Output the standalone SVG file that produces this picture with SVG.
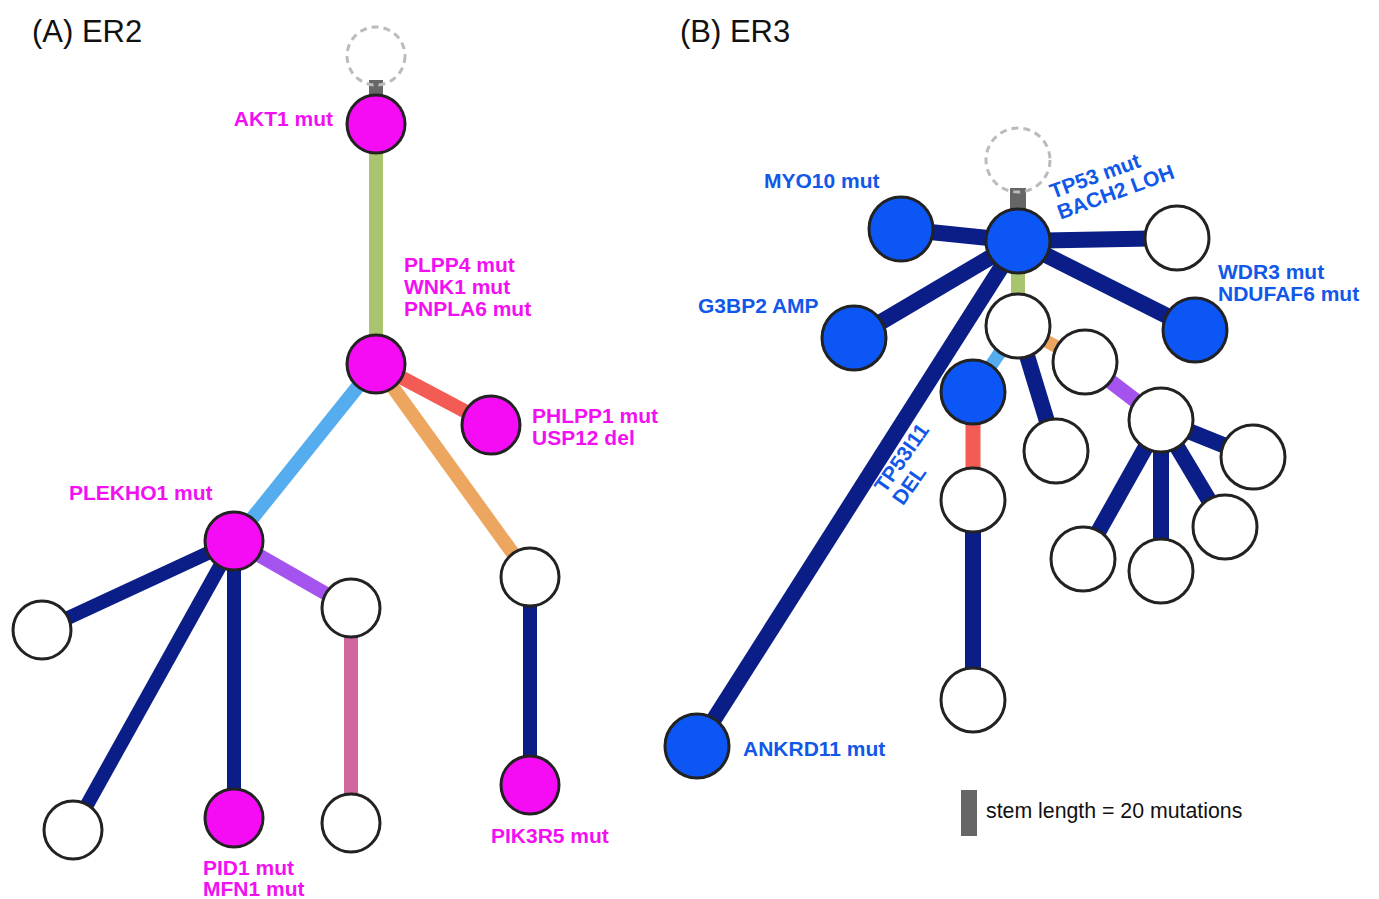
<svg xmlns="http://www.w3.org/2000/svg" width="1379" height="899" viewBox="0 0 1379 899">
<style>
.title{font-family:"Liberation Sans",Arial,sans-serif;font-size:31px;fill:#111}
.lm{font-family:"Liberation Sans",Arial,sans-serif;font-size:21px;font-weight:bold;fill:#f20ff2}
.lb{font-family:"Liberation Sans",Arial,sans-serif;font-size:21px;font-weight:bold;fill:#1158e8}
.leg{font-family:"Liberation Sans",Arial,sans-serif;font-size:21.3px;fill:#111}
.n{stroke:#222;stroke-width:3}
.w{fill:#fff}
.m{fill:#f50cf5}
.b{fill:#0b56f5}
.d{fill:none;stroke:#bbb;stroke-width:3;stroke-dasharray:7 5}
.ea line{stroke-width:14}
.eb line{stroke-width:16}
.navy{stroke:#0b1d87}
.green{stroke:#a9c46e}
.lblue{stroke:#55adf0}
.orange{stroke:#eda660}
.red{stroke:#f25c54}
.purple{stroke:#a553ee}
.pink{stroke:#d0679e}
.stem{stroke:#666}
</style>
<text class="title" x="32" y="42">(A) ER2</text>
<text class="title" x="680" y="42">(B) ER3</text>
<g id="connectors">
<g class="ea">
<line class="stem" x1="376" y1="80" x2="376" y2="100"/>
<line class="green" x1="376" y1="124" x2="376" y2="364"/>
<line class="red" x1="376" y1="364" x2="491" y2="425"/>
<line class="lblue" x1="376" y1="364" x2="234" y2="541"/>
<line class="orange" x1="376" y1="364" x2="530" y2="577"/>
<line class="navy" x1="234" y1="541" x2="42" y2="630"/>
<line class="navy" x1="234" y1="541" x2="73" y2="830"/>
<line class="navy" x1="234" y1="541" x2="234" y2="818"/>
<line class="purple" x1="234" y1="541" x2="351" y2="608"/>
<line class="pink" x1="351" y1="608" x2="351" y2="823"/>
<line class="navy" x1="530" y1="577" x2="530" y2="785"/>
</g>
<g class="eb">
<line class="stem" x1="1018" y1="188" x2="1018" y2="215"/>
<line class="navy" x1="1018" y1="241" x2="697" y2="746"/>
<line class="navy" x1="1018" y1="241" x2="901" y2="229"/>
<line class="navy" x1="1018" y1="241" x2="1177" y2="238"/>
<line class="navy" x1="1018" y1="241" x2="854" y2="338"/>
<line class="navy" x1="1018" y1="241" x2="1195" y2="330"/>
<line class="green" style="stroke-width:14" x1="1018" y1="241" x2="1018" y2="326"/>
<line class="lblue" style="stroke-width:13" x1="1018" y1="326" x2="973" y2="392"/>
<line class="orange" style="stroke-width:13" x1="1018" y1="326" x2="1085" y2="362"/>
<line class="navy" x1="1018" y1="326" x2="1056" y2="451"/>
<line class="purple" style="stroke-width:15" x1="1085" y1="362" x2="1161" y2="420"/>
<line class="red" style="stroke-width:15" x1="973" y1="392" x2="973" y2="500"/>
<line class="navy" x1="973" y1="500" x2="973" y2="700"/>
<line class="navy" x1="1161" y1="420" x2="1253" y2="457"/>
<line class="navy" x1="1161" y1="420" x2="1225" y2="527"/>
<line class="navy" x1="1161" y1="420" x2="1161" y2="571"/>
<line class="navy" x1="1161" y1="420" x2="1083" y2="559"/>
</g>
</g>
<g id="A-root"><circle class="d" cx="376" cy="56" r="29"/></g>
<g id="A-akt1"><circle class="n m" cx="376" cy="124" r="29"/><text class="lm" x="333" y="126" text-anchor="end">AKT1 mut</text></g>
<g id="A-plpp4"><circle class="n m" cx="376" cy="364" r="29"/><text class="lm" x="404" y="272">PLPP4 mut</text><text class="lm" x="404" y="294">WNK1 mut</text><text class="lm" x="404" y="316">PNPLA6 mut</text></g>
<g id="A-phlpp1"><circle class="n m" cx="491" cy="425" r="29"/><text class="lm" x="532" y="423">PHLPP1 mut</text><text class="lm" x="532" y="445">USP12 del</text></g>
<g id="A-plekho1"><circle class="n m" cx="234" cy="541" r="29"/><text class="lm" x="69" y="500">PLEKHO1 mut</text></g>
<g id="A-n1"><circle class="n w" cx="530" cy="577" r="29"/></g>
<g id="A-n2"><circle class="n w" cx="42" cy="630" r="29"/></g>
<g id="A-n3"><circle class="n w" cx="73" cy="830" r="29"/></g>
<g id="A-pid1"><circle class="n m" cx="234" cy="818" r="29"/><text class="lm" x="203" y="875">PID1 mut</text><text class="lm" x="203" y="896">MFN1 mut</text></g>
<g id="A-n4"><circle class="n w" cx="351" cy="608" r="29"/></g>
<g id="A-n5"><circle class="n w" cx="351" cy="823" r="29"/></g>
<g id="A-pik3r5"><circle class="n m" cx="530" cy="785" r="29"/><text class="lm" x="491" y="843">PIK3R5 mut</text></g>
<g id="B-root"><circle class="d" cx="1018" cy="160" r="32"/></g>
<g id="B-tp53"><circle class="n b" cx="1018" cy="241" r="32"/><text class="lb" transform="translate(1053 199) rotate(-20)">TP53 mut<tspan x="0" dy="22">BACH2 LOH</tspan></text></g>
<g id="B-myo10"><circle class="n b" cx="901" cy="229" r="32"/><text class="lb" x="764" y="188">MYO10 mut</text></g>
<g id="B-n1"><circle class="n w" cx="1177" cy="238" r="32"/></g>
<g id="B-g3bp2"><circle class="n b" cx="854" cy="338" r="32"/><text class="lb" x="698" y="313">G3BP2 AMP</text></g>
<g id="B-wdr3"><circle class="n b" cx="1195" cy="330" r="32"/><text class="lb" x="1218" y="279">WDR3 mut</text><text class="lb" x="1218" y="301">NDUFAF6 mut</text></g>
<g id="B-ankrd11"><circle class="n b" cx="697" cy="746" r="32"/><text class="lb" x="743" y="756">ANKRD11 mut</text></g>
<g id="B-n2"><circle class="n w" cx="1018" cy="326" r="32"/></g>
<g id="B-tp53i11"><circle class="n b" cx="973" cy="392" r="32"/><text class="lb" transform="translate(885 494) rotate(-55)">TP53I11<tspan x="0" dy="22">DEL</tspan></text></g>
<g id="B-n3"><circle class="n w" cx="1085" cy="362" r="32"/></g>
<g id="B-n4"><circle class="n w" cx="1056" cy="451" r="32"/></g>
<g id="B-n5"><circle class="n w" cx="1161" cy="420" r="32"/></g>
<g id="B-n6"><circle class="n w" cx="973" cy="500" r="32"/></g>
<g id="B-n7"><circle class="n w" cx="973" cy="700" r="32"/></g>
<g id="B-n8"><circle class="n w" cx="1253" cy="457" r="32"/></g>
<g id="B-n9"><circle class="n w" cx="1225" cy="527" r="32"/></g>
<g id="B-n10"><circle class="n w" cx="1161" cy="571" r="32"/></g>
<g id="B-n11"><circle class="n w" cx="1083" cy="559" r="32"/></g>
<g id="legend"><rect x="961" y="790" width="16" height="46" fill="#666"/><text class="leg" x="986" y="818">stem length = 20 mutations</text></g>
</svg>
